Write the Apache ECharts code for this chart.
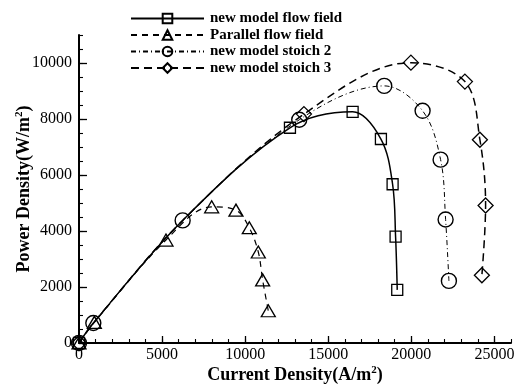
<!DOCTYPE html>
<html>
<head>
<meta charset="utf-8">
<script src="https://cdn.jsdelivr.net/npm/echarts@6/dist/echarts.min.js"></script>
<style>
html,body{margin:0;padding:0;background:#fff;}
#c{width:516px;height:385px;}
</style>
</head>
<body>
<div id="c"></div>
<script>
// ---- data ----
var seriesNames = ['new model flow field', 'Parallel flow field', 'new model stoich 2', 'new model stoich 3'];
var flowField = [[0,0],[862,712],[6238,4378],[12696,7687],[16468,8257],[18171,7285],[18874,5670],[19054,3797],[19153,1897]];
var parallelField = [[0,0],[923,736],[5235,3677],[7984,4865],[9447,4745],[10249,4117],[10791,3250],[11052,2254],[11392,1151]];
var stoich2 = [[0,0],[862,712],[6238,4378],[13255,7972],[18370,9182],[20679,8292],[21763,6549],[22064,4413],[22263,2218]];
var stoich3 = [[0,0],[862,712],[6238,4378],[13538,8175],[19977,10012],[23226,9336],[24128,7260],[24471,4911],[24248,2420]];
var xMajorTicks = [0,5000,10000,15000,20000,25000];
var yMajorTicks = [0,2000,4000,6000,8000,10000];
var xMinorTicks = [0,1000,2000,3000,4000,5000,6000,7000,8000,9000,10000,11000,12000,13000,14000,15000,16000,17000,18000,19000,20000,21000,22000,23000,24000,25000,26000];
var yMinorTicks = [0,500,1000,1500,2000,2500,3000,3500,4000,4500,5000,5500,6000,6500,7000,7500,8000,8500,9000,9500,10000,10500,11000];
var xMax = 26000, yMax = 11000;

var FONT = '"Liberation Serif", "Times New Roman", serif';
var chart = echarts.init(document.getElementById('c'), null, {renderer:'canvas'});

function hideShared(data){
  // shared start points are drawn by the circle series only
  return data.map(function(p, i){
    if (i === 1 || i === 2) return {value:p, symbol:'none'};
    return p;
  });
}
function plain(v){ return String(v); }
var markerStyle = {color:'rgba(0,0,0,0)', borderColor:'#000', borderWidth:1.3};
var titleRich = {
  b:{fontFamily:FONT, fontWeight:'bold', fontSize:18, color:'#000', lineHeight:20},
  s:{fontFamily:FONT, fontWeight:'bold', fontSize:11, color:'#000', verticalAlign:'top', lineHeight:20}
};

var option = {
  animation:false,
  backgroundColor:'#fff',
  grid:{left:79, right:5, top:35, bottom:42, containLabel:false, outerBoundsMode:'none'},
  legend:{
    orient:'vertical', left:125, top:6, itemWidth:73, itemHeight:12, itemGap:1.5,
    textStyle:{fontFamily:FONT, fontWeight:'bold', fontSize:15, color:'#000', padding:[0,0,0,1]},
    data:seriesNames
  },
  xAxis:[{
    type:'value', min:0, max:xMax, position:'bottom',
    name:'{b|Current Density(A/m}{s|2}{b|)}', nameLocation:'middle', nameGap:22, nameMoveOverlap:false,
    nameTextStyle:{rich:titleRich},
    axisLine:{show:true, onZero:false, lineStyle:{color:'#000', width:2}},
    axisTick:{show:true, inside:true, length:7, lineStyle:{color:'#000', width:1.3}, customValues:xMajorTicks},
    axisLabel:{fontFamily:FONT, fontSize:16, color:'#000', margin:4, customValues:xMajorTicks, formatter:plain},
    splitLine:{show:false}
  },{
    type:'value', min:0, max:xMax, position:'bottom',
    axisLine:{show:false},
    axisTick:{show:true, inside:true, length:4, lineStyle:{color:'#000', width:1.1}, customValues:xMinorTicks},
    axisLabel:{show:false},
    splitLine:{show:false}
  }],
  yAxis:[{
    type:'value', min:0, max:yMax, position:'left',
    name:'{b|Power Density(W/m}{s|2}{b|)}', nameLocation:'middle', nameGap:45, nameRotate:90, nameMoveOverlap:false,
    nameTextStyle:{rich:titleRich},
    axisLine:{show:true, onZero:false, lineStyle:{color:'#000', width:2}},
    axisTick:{show:true, inside:true, length:8, lineStyle:{color:'#000', width:1.3}, customValues:yMajorTicks},
    axisLabel:{fontFamily:FONT, fontSize:16, color:'#000', margin:7, customValues:yMajorTicks, formatter:plain},
    splitLine:{show:false}
  },{
    type:'value', min:0, max:yMax, position:'left',
    axisLine:{show:false},
    axisTick:{show:true, inside:true, length:4, lineStyle:{color:'#000', width:1.1}, customValues:yMinorTicks},
    axisLabel:{show:false},
    splitLine:{show:false}
  }],
  series:[
    {name:seriesNames[0], type:'line', data:hideShared(flowField), smooth:0.35,
     symbol:'rect', symbolSize:11, itemStyle:markerStyle, lineStyle:{color:'#000', width:1.5, type:'solid'}, z:3},
    {name:seriesNames[1], type:'line', data:parallelField, smooth:0.35,
     symbol:'triangle', symbolSize:[14,12], itemStyle:markerStyle, lineStyle:{color:'#000', width:1.2, type:[6,5]}, z:3},
    {name:seriesNames[2], type:'line', data:stoich2, smooth:0.35,
     symbol:'circle', symbolSize:15, itemStyle:{color:'rgba(0,0,0,0)', borderColor:'#000', borderWidth:1.4}, lineStyle:{color:'#000', width:1, type:[5,3,1,3]}, z:4},
    {name:seriesNames[3], type:'line', data:hideShared(stoich3), smooth:0.35,
     symbol:'diamond', symbolSize:15, itemStyle:markerStyle, lineStyle:{color:'#000', width:1.5, type:[8,5]}, z:3}
  ]
};
chart.setOption(option);
</script>
</body>
</html>
